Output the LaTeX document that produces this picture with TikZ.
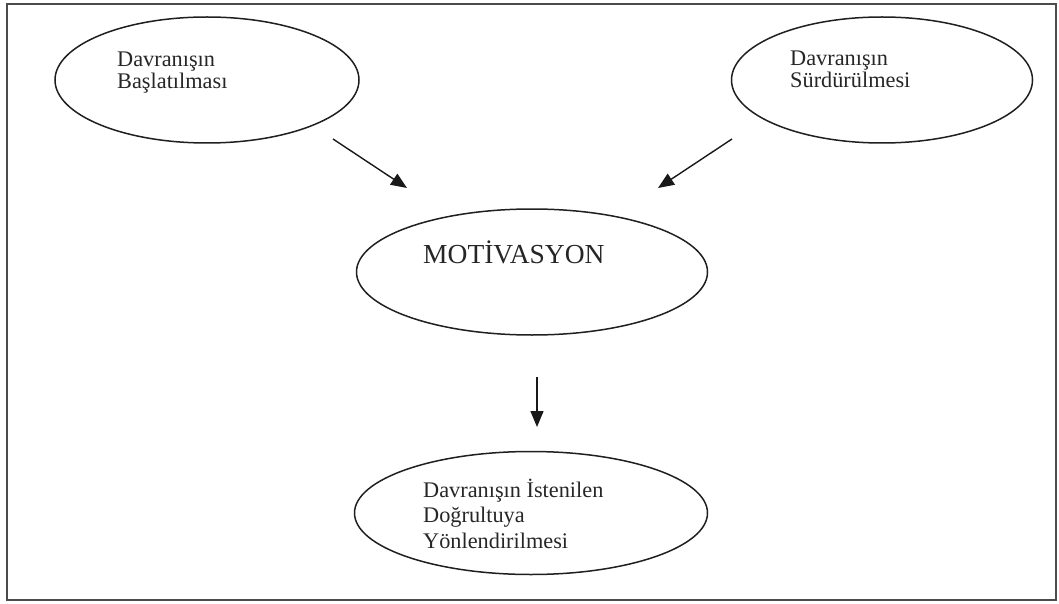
\documentclass[tikz,border=0pt]{standalone}
\usepackage{fontspec}
\setmainfont{Liberation Serif}
\usetikzlibrary{arrows.meta,shapes.geometric}
\begin{document}
\begin{tikzpicture}[x=1pt,y=-1pt,
  bubble/.style={draw=black!88, line width=1.5pt, ellipse, inner sep=0pt},
  txt/.style={anchor=base west, inner sep=0pt, font=\fontsize{22.3}{26}\selectfont, text=black!85},
  bigtxt/.style={anchor=base west, inner sep=0pt, font=\fontsize{27.5}{32}\selectfont, text=black!85},
  flow/.style={line width=1.4pt, draw=black!90, -{Triangle[length=16pt,width=13pt]}}]
\useasboundingbox (0,0) rectangle (1059,604);
% outer frame
\draw[line width=2pt, black!70] (7,4) rectangle (1056,600);

% ellipses
\node[bubble, minimum width=304pt, minimum height=126pt] (start) at (207,80) {};
\node[bubble, minimum width=301pt, minimum height=126pt] (keep)  at (882,80) {};
\node[bubble, minimum width=351pt, minimum height=126pt] (motiv) at (532,272) {};
\node[bubble, minimum width=353pt, minimum height=123pt] (goal)  at (531,513) {};

% texts
\node[txt] (startA) at (117,67) {Davranışın};
\node[txt] (startB) at (117,89) {Başlatılması};
\node[txt] (keepA)  at (790,66) {Davranışın};
\node[txt] (keepB)  at (790,88) {Sürdürülmesi};
\node[bigtxt] (motivT) at (423,263) {MOTİVASYON};
\node[txt] (goalA) at (423,497) {Davranışın İstenilen};
\node[txt] (goalB) at (423,522) {Doğrultuya};
\node[txt] (goalC) at (423,548) {Yönlendirilmesi};

% arrow end points
\coordinate (a1s) at (333,139);
\coordinate (a1e) at (407,188);
\coordinate (a2s) at (732,139);
\coordinate (a2e) at (658,188);
\coordinate (a3s) at (537,377);
\coordinate (a3e) at (537,427);

\draw[flow] (a1s) -- (a1e);
\draw[flow] (a2s) -- (a2e);
\draw[flow] (a3s) -- (a3e);
\end{tikzpicture}
\end{document}
